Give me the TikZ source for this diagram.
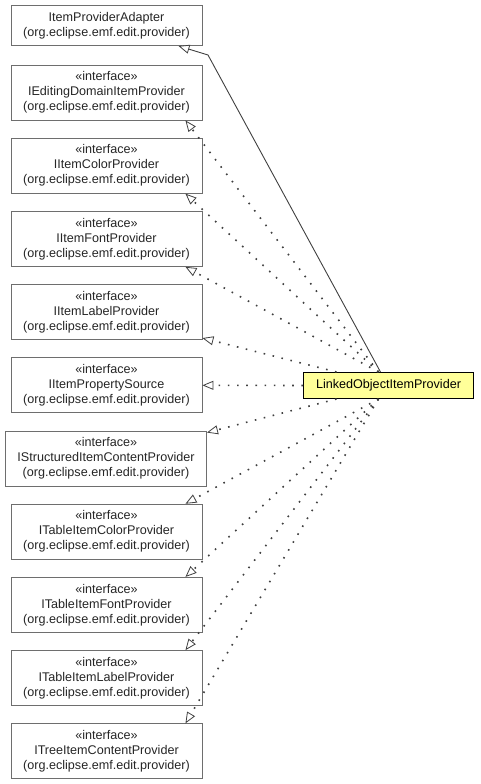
\documentclass[tikz,border=0pt]{standalone}
\usepackage{fontspec}
\setmainfont{Liberation Sans}
\usepackage{xcolor}
\usetikzlibrary{arrows.meta,positioning}

\definecolor{boxline}{HTML}{6E6E6E}
\definecolor{edgeline}{HTML}{404040}
\definecolor{noteyellow}{HTML}{FFFF99}

\begin{document}
\begin{tikzpicture}[
  x=1pt, y=-1pt,
  font=\fontsize{12.6}{15}\selectfont,
  umlbox/.style={draw=boxline, line width=0.9pt, fill=white, align=center, inner sep=0pt,
    minimum width=191pt, minimum height=55pt, text=black!85},
  mainbox/.style={draw=black, line width=1pt, fill=noteyellow, align=center, inner sep=0pt,
    minimum width=170pt, minimum height=26pt},
  extends/.style={-{Triangle[open, length=11pt, width=9pt, line width=0.8pt, fill=white]},
    draw=edgeline, line width=0.9pt},
  realizes/.style={-{Triangle[open, length=11pt, width=9pt, line width=0.8pt, fill=white]},
    draw=edgeline, line width=1.6pt, dash pattern=on 1.6pt off 7.6pt}
]
  \useasboundingbox (0,0) rectangle (480,784);

  % classes and interfaces on the left
  \node[umlbox, minimum height=40pt] (adapter) at (106.5,25.5) {ItemProviderAdapter\\(org.eclipse.emf.edit.provider)};
  \node[umlbox] (editing) at (106.5,92.5) {«interface»\\IEditingDomainItemProvider\\(org.eclipse.emf.edit.provider)};
  \node[umlbox] (color) at (106.5,165.7) {«interface»\\IItemColorProvider\\(org.eclipse.emf.edit.provider)};
  \node[umlbox] (font) at (106.5,238.9) {«interface»\\IItemFontProvider\\(org.eclipse.emf.edit.provider)};
  \node[umlbox] (label) at (106.5,312.1) {«interface»\\IItemLabelProvider\\(org.eclipse.emf.edit.provider)};
  \node[umlbox] (property) at (106.5,385.3) {«interface»\\IItemPropertySource\\(org.eclipse.emf.edit.provider)};
  \node[umlbox, minimum width=201pt] (structured) at (106,458.5) {«interface»\\IStructuredItemContentProvider\\(org.eclipse.emf.edit.provider)};
  \node[umlbox] (tablecolor) at (106.5,531.7) {«interface»\\ITableItemColorProvider\\(org.eclipse.emf.edit.provider)};
  \node[umlbox] (tablefont) at (106.5,604.9) {«interface»\\ITableItemFontProvider\\(org.eclipse.emf.edit.provider)};
  \node[umlbox] (tablelabel) at (106.5,678.1) {«interface»\\ITableItemLabelProvider\\(org.eclipse.emf.edit.provider)};
  \node[umlbox] (tree) at (106.5,751.3) {«interface»\\ITreeItemContentProvider\\(org.eclipse.emf.edit.provider)};

  % the class itself
  \node[mainbox] (linked) at (388.5,385.5) {LinkedObjectItemProvider};
  \coordinate (bend) at (208,55);

  \draw[extends] ([xshift=-8pt]linked.north) -- (bend) -- ([xshift=-24pt]adapter.south east);
  \draw[realizes] ([xshift=-10pt]linked.north) -- ([xshift=-17pt]editing.south east);
  \draw[realizes] ([xshift=-10pt]linked.north) -- ([xshift=-17pt]color.south east);
  \draw[realizes] ([xshift=-10pt]linked.north) -- ([xshift=-17pt]font.south east);
  \draw[realizes] ([xshift=-52pt]linked.north) -- ([yshift=2pt]label.south east);
  \draw[realizes] (linked.west) -- (property.east);
  \draw[realizes] ([xshift=-52pt]linked.south) -- ([yshift=-2pt]structured.north east);
  \draw[realizes] ([xshift=-10pt]linked.south) -- ([xshift=-17pt]tablecolor.north east);
  \draw[realizes] ([xshift=-10pt]linked.south) -- ([xshift=-17pt]tablefont.north east);
  \draw[realizes] ([xshift=-10pt]linked.south) -- ([xshift=-17pt]tablelabel.north east);
  \draw[realizes] ([xshift=-10pt]linked.south) -- ([xshift=-17pt]tree.north east);
\end{tikzpicture}
\end{document}
